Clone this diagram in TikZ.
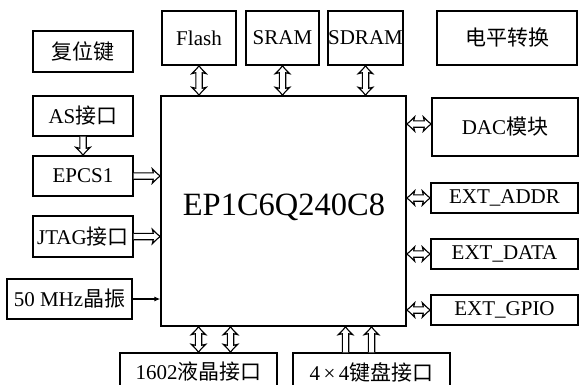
\documentclass[tikz,border=0pt]{standalone}
\usepackage{fontspec}
\setmainfont{Liberation Serif}
\newfontfamily\cjkf{Noto Sans CJK SC}
\usetikzlibrary{arrows.meta,calc}
\newcommand\zhtxt[1]{{\cjkf\fontsize{21}{24}\selectfont #1}}
% helper: compute start, length, angle of a connector between two named points
\newcommand\arrsetup[2]{%
  \path let \p1=#1, \p2=#2 in \pgfextra{%
    \pgfmathsetmacro\tmpL{veclen(\x2-\x1,\y2-\y1)}%
    \pgfmathsetmacro\tmpA{atan2(\y2-\y1,\x2-\x1)}%
    \pgfmathsetmacro\tmpX{\x1}\pgfmathsetmacro\tmpY{\y1}%
    \global\let\arrL\tmpL \global\let\arrA\tmpA
    \global\let\arrX\tmpX \global\let\arrY\tmpY};}
% hollow double-headed arrow
\newcommand\dblarr[2]{%
  \arrsetup{#1}{#2}%
  \begin{scope}[shift={(\arrX pt,\arrY pt)}, rotate=\arrA, x=1pt, y=1pt]
    \draw[hollow] (0,0) .. controls (3.2,2.2) and (5.8,5) .. (8,7.2) -- (7,3.2)
      -- (\arrL-7,3.2) -- (\arrL-8,7.2) .. controls (\arrL-5.8,5) and (\arrL-3.2,2.2) .. (\arrL,0)
      .. controls (\arrL-3.2,-2.2) and (\arrL-5.8,-5) .. (\arrL-8,-7.2) -- (\arrL-7,-3.2)
      -- (7,-3.2) -- (8,-7.2) .. controls (5.8,-5) and (3.2,-2.2) .. (0,0) -- cycle;
  \end{scope}}
% hollow single-headed arrow (tip at the second point)
\newcommand\sglarr[2]{%
  \arrsetup{#1}{#2}%
  \begin{scope}[shift={(\arrX pt,\arrY pt)}, rotate=\arrA, x=1pt, y=1pt]
    \draw[hollow] (0,3.2) -- (\arrL-7,3.2) -- (\arrL-8,7.2)
      .. controls (\arrL-5.8,5) and (\arrL-3.2,2.2) .. (\arrL,0)
      .. controls (\arrL-3.2,-2.2) and (\arrL-5.8,-5) .. (\arrL-8,-7.2)
      -- (\arrL-7,-3.2) -- (0,-3.2);
  \end{scope}}
\begin{document}
\begin{tikzpicture}[x=1pt,y=-1pt,
  box/.style={draw, line width=1.4pt, inner sep=0pt, align=center, font=\fontsize{21}{24}\selectfont},
  hollow/.style={line width=1.1pt, line join=miter, fill=white},
  thinarr/.style={line width=1.1pt, -{Latex[length=6pt,width=5pt]}}
]
\clip (0,0) rectangle (579,384);
\fill[white] (0,0) rectangle (579,384);
\node[box, minimum width=100pt, minimum height=41pt] (reset) at (83,51.5) {\zhtxt{复位键}};
\node[box, minimum width=100pt, minimum height=40pt] (as) at (83,116) {AS\zhtxt{接口}};
\node[box, minimum width=100pt, minimum height=40pt] (epcs) at (83,176) {EPCS1};
\node[box, minimum width=100pt, minimum height=41pt] (jtag) at (83,236.5) {JTAG\zhtxt{接口}};
\node[box, minimum width=125pt, minimum height=40pt] (osc) at (69.5,299) {50 MHz\zhtxt{晶振}};
\node[box, minimum width=245pt, minimum height=230pt] (chip) at (283.5,211) {};
\node[inner sep=0pt, font=\fontsize{32.5}{36}\selectfont] (chiplabel) at (284,207) {EP1C6Q240C8};
\node[box, minimum width=74pt, minimum height=54pt] (flash) at (199,38) {Flash};
\node[box, minimum width=73pt, minimum height=54pt] (sram) at (282.5,38) {SRAM};
\node[box, minimum width=73pt, minimum height=54pt] (sdram) at (365.5,38) {SDRAM};
\node[box, minimum width=140pt, minimum height=54pt] (level) at (507,38) {\zhtxt{电平转换}};
\node[box, minimum width=146pt, minimum height=58pt] (dac) at (505,127) {DAC\zhtxt{模块}};
\node[box, minimum width=147pt, minimum height=30pt] (addr) at (504.5,198) {EXT\_ADDR};
\node[box, minimum width=147pt, minimum height=30pt] (data) at (504.5,254) {EXT\_DATA};
\node[box, minimum width=147pt, minimum height=30pt] (gpio) at (504.5,310) {EXT\_GPIO};
\node[box, minimum width=157pt, minimum height=38pt] (lcd) at (198.5,372) {1602\zhtxt{液晶接口}};
\node[box, minimum width=157pt, minimum height=38pt] (kbd) at (371.5,372) {4\,×\,4\zhtxt{键盘接口}};
% top connectors
\dblarr{(flash.south)}{(flash.south |- chip.north)}
\dblarr{(sram.south)}{(sram.south |- chip.north)}
\dblarr{(sdram.south)}{(sdram.south |- chip.north)}
% left connectors
\sglarr{(as.south)}{(epcs.north)}
\sglarr{(epcs.east)}{(epcs.east -| chip.west)}
\sglarr{(jtag.east)}{(jtag.east -| chip.west)}
\draw[thinarr] (osc.east) -- (osc.east -| chip.west);
% right connectors
\dblarr{([yshift=3pt]dac.west -| chip.east)}{([yshift=3pt]dac.west)}
\dblarr{(addr.west -| chip.east)}{(addr.west)}
\dblarr{(data.west -| chip.east)}{(data.west)}
\dblarr{(gpio.west -| chip.east)}{(gpio.west)}
% bottom connectors
\dblarr{(lcd.north)}{(lcd.north |- chip.south)}
\dblarr{([xshift=32pt]lcd.north)}{([xshift=32pt]lcd.north |- chip.south)}
\sglarr{([xshift=-26pt]kbd.north)}{([xshift=-26pt]kbd.north |- chip.south)}
\sglarr{(kbd.north)}{(kbd.north |- chip.south)}
\end{tikzpicture}
\end{document}
